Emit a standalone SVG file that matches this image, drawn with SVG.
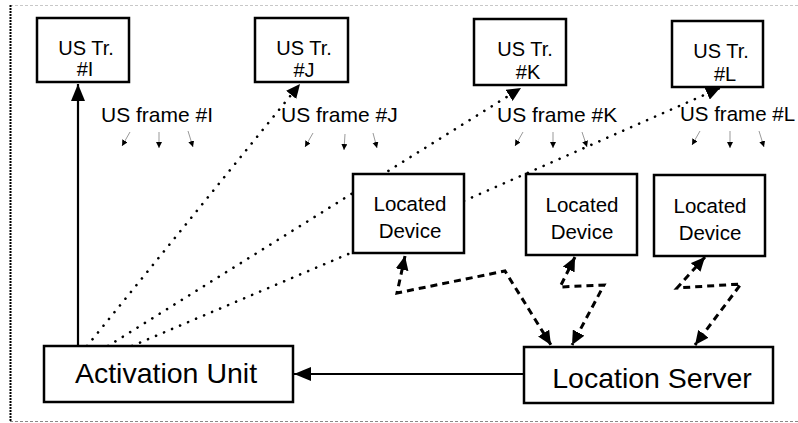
<svg xmlns="http://www.w3.org/2000/svg" width="798" height="423" viewBox="0 0 798 423">
<style>
  .box { fill: #fff; stroke: #000; stroke-width: 2.5; }
  text { font-family: "Liberation Sans", Arial, sans-serif; fill: #000; }
  .tr { font-size: 20px; text-anchor: middle; }
  .ld { font-size: 20.5px; text-anchor: middle; }
  .fr { font-size: 21px; }
  .big { font-size: 28.5px; text-anchor: middle; }
  .solid { fill: none; stroke: #000; stroke-width: 2.2; }
  .dot { fill: none; stroke: #000; stroke-width: 2.6; stroke-linecap: round; stroke-dasharray: 0.1 8.6; }
  .dash { fill: none; stroke: #000; stroke-width: 3; stroke-dasharray: 7 5; }
  .thin { fill: none; stroke: #999; stroke-width: 1; }
</style>
<defs>
  <marker id="ah" markerUnits="userSpaceOnUse" markerWidth="18" markerHeight="14" refX="17" refY="7" orient="auto-start-reverse">
    <path d="M0,0 L17,7 L0,14 Z" fill="#000"/>
  </marker>
  <marker id="ahs" markerUnits="userSpaceOnUse" markerWidth="15" markerHeight="13" refX="14" refY="6.5" orient="auto-start-reverse">
    <path d="M0,0 L14,6.5 L0,13 Z" fill="#000"/>
  </marker>
  <marker id="ahm" markerUnits="userSpaceOnUse" markerWidth="7" markerHeight="7" refX="6" refY="3" orient="auto">
    <path d="M0,0 L6,3 L0,6 Z" fill="#000"/>
  </marker>
</defs>

<!-- frame border -->
<g id="frame">
  <line x1="10" y1="5.5" x2="798" y2="5.5" stroke="#c8c8c8" stroke-width="1" stroke-dasharray="3 2"/>
  <line x1="10" y1="421.5" x2="798" y2="421.5" stroke="#888" stroke-width="1" stroke-dasharray="3 2"/>
  <line x1="10.5" y1="5" x2="10.5" y2="422" stroke="#000" stroke-width="2" stroke-dasharray="2 1"/>
</g>

<g id="connectors">
  <line class="solid" x1="78" y1="346" x2="78" y2="84" marker-end="url(#ah)"/>
  <line class="solid" x1="524" y1="374" x2="294" y2="374" marker-end="url(#ah)"/>
  <line class="dot" x1="87" y1="346" x2="300" y2="84" marker-end="url(#ahs)"/>
  <line class="dot" x1="108" y1="346" x2="521" y2="88" marker-end="url(#ahs)"/>
  <line class="dot" x1="132" y1="346" x2="353" y2="252"/>
  <line class="dot" x1="464" y1="201" x2="720" y2="88" marker-end="url(#ahs)"/>
  <polyline class="dash" points="405,256 397,293 505,271 551,345" marker-start="url(#ahs)" marker-end="url(#ahs)"/>
  <polyline class="dash" points="575,257 560,287 604,285 572,345" marker-start="url(#ahs)" marker-end="url(#ahs)"/>
  <polyline class="dash" points="705,257 677,288 741,284 695,345" marker-start="url(#ahs)" marker-end="url(#ahs)"/>
  <!-- ultrasound frame arrows -->
  <line class="thin" x1="130" y1="132" x2="122" y2="146" marker-end="url(#ahm)"/>
  <line class="thin" x1="159" y1="132" x2="159" y2="148" marker-end="url(#ahm)"/>
  <line class="thin" x1="188" y1="131" x2="193" y2="147" marker-end="url(#ahm)"/>
  <line class="thin" x1="313" y1="133" x2="305" y2="147" marker-end="url(#ahm)"/>
  <line class="thin" x1="345" y1="134" x2="344" y2="150" marker-end="url(#ahm)"/>
  <line class="thin" x1="373" y1="133" x2="377" y2="148" marker-end="url(#ahm)"/>
  <line class="thin" x1="523" y1="132" x2="515" y2="146" marker-end="url(#ahm)"/>
  <line class="thin" x1="553" y1="132" x2="553" y2="148" marker-end="url(#ahm)"/>
  <line class="thin" x1="582" y1="132" x2="587" y2="147" marker-end="url(#ahm)"/>
  <line class="thin" x1="700" y1="131" x2="692" y2="145" marker-end="url(#ahm)"/>
  <line class="thin" x1="730" y1="131" x2="730" y2="148" marker-end="url(#ahm)"/>
  <line class="thin" x1="759" y1="131" x2="764" y2="147" marker-end="url(#ahm)"/>
</g>

<g id="labels">
  <text class="fr" x="101" y="122">US frame #I</text>
  <text class="fr" x="281" y="122">US frame #J</text>
  <text class="fr" x="497" y="122">US frame #K</text>
  <text class="fr" x="680" y="121" style="font-size:20.5px">US frame #L</text>
</g>

<g id="us-tr-i">
  <rect class="box" x="37" y="18" width="92" height="64"/>
  <text class="tr" x="86" y="55">US Tr.</text>
  <text class="tr" x="85" y="76">#I</text>
</g>
<g id="us-tr-j">
  <rect class="box" x="255" y="18" width="93" height="64"/>
  <text class="tr" x="304" y="55">US Tr.</text>
  <text class="tr" x="304" y="77">#J</text>
</g>
<g id="us-tr-k">
  <rect class="box" x="474" y="19" width="92" height="66"/>
  <text class="tr" x="525" y="56">US Tr.</text>
  <text class="tr" x="528" y="79">#K</text>
</g>
<g id="us-tr-l">
  <rect class="box" x="672" y="21" width="91" height="66"/>
  <text class="tr" x="721" y="58">US Tr.</text>
  <text class="tr" x="725" y="81">#L</text>
</g>

<g id="located-device-1">
  <rect class="box" x="353" y="174" width="111" height="79"/>
  <text class="ld" x="410" y="211">Located</text>
  <text class="ld" x="410" y="238">Device</text>
</g>
<g id="located-device-2">
  <rect class="box" x="526" y="174" width="111" height="81"/>
  <text class="ld" x="582" y="212">Located</text>
  <text class="ld" x="582" y="239">Device</text>
</g>
<g id="located-device-3">
  <rect class="box" x="654" y="175" width="111" height="81"/>
  <text class="ld" x="710" y="213">Located</text>
  <text class="ld" x="710" y="240">Device</text>
</g>

<g id="activation-unit">
  <rect class="box" x="44" y="346" width="249" height="56"/>
  <text class="big" x="166" y="383">Activation Unit</text>
</g>
<g id="location-server">
  <rect class="box" x="524" y="347" width="249" height="56"/>
  <text class="big" x="652" y="388">Location Server</text>
</g>
</svg>
